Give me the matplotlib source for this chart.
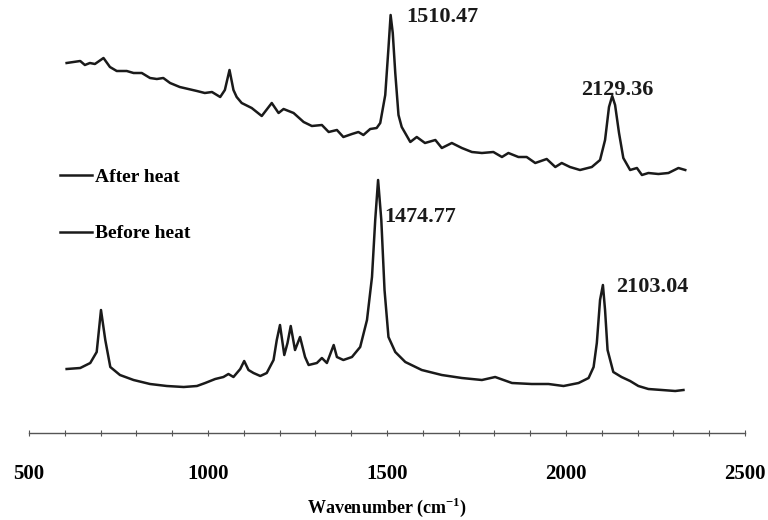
import numpy as np
import matplotlib
matplotlib.use("Agg")
import matplotlib.pyplot as plt
from matplotlib.ticker import MultipleLocator

plt.rcParams['font.family'] = ['Liberation Serif', 'DejaVu Serif']
plt.rcParams['mathtext.fontset'] = 'custom'
plt.rcParams['mathtext.rm'] = 'Liberation Serif'
plt.rcParams['mathtext.bf'] = 'Liberation Serif:bold'

# wavenumber (cm-1) and intensity (a.u.)
after_wn = [605, 643, 656, 670, 684, 708, 726, 745, 773, 792, 815, 838, 857, 875,
            894, 921, 945, 969, 991, 1011, 1034, 1047, 1060, 1071, 1080, 1094, 1122,
            1150, 1178, 1197, 1211, 1239, 1267, 1290, 1318, 1337, 1360, 1378, 1402,
            1420, 1434, 1453, 1471, 1481, 1495, 1504, 1510, 1516, 1523, 1532, 1541, 1565,
            1583, 1606, 1635, 1653, 1681, 1709, 1737, 1765, 1797, 1821, 1839, 1867,
            1890, 1914, 1946, 1970, 1988, 2011, 2039, 2072, 2095, 2109, 2120, 2129,
            2137, 2148, 2160, 2179, 2198, 2212, 2230, 2258, 2286, 2314, 2333]
after_int = [370, 372, 368, 370, 369, 375, 366, 362, 362, 360, 360, 355, 354, 355,
             350, 346, 344, 342, 340, 341, 336, 343, 363, 343, 336, 330, 325,
             317, 330, 320, 324, 320, 311, 307, 308, 301, 303, 296, 299,
             301, 298, 304, 305, 310, 338, 385, 418, 400, 360, 318, 306, 291,
             296, 290, 293, 285, 290, 285, 281, 280, 281, 276, 280, 276,
             276, 270, 274, 266, 270, 266, 263, 266, 273, 293, 326, 337,
             328, 300, 275, 263, 265, 258, 260, 259, 260, 265, 263]

before_wn = [605, 643, 671, 689, 701, 713, 727, 754, 792, 838, 885, 932, 969, 992,
             1020, 1043, 1057, 1071, 1090, 1101, 1113, 1127, 1146, 1164, 1183, 1192,
             1201, 1213, 1222, 1231, 1243, 1257, 1271, 1281, 1304, 1318, 1332, 1351,
             1360, 1378, 1402, 1425, 1444, 1458, 1467, 1475, 1484, 1493, 1504, 1523,
             1551, 1597, 1653, 1709, 1765, 1802, 1849, 1904, 1951, 1993, 2035, 2063,
             2077, 2086, 2095, 2103, 2109, 2116, 2132, 2155, 2179, 2202, 2230, 2268,
             2305, 2328]
before_int = [64, 65, 70, 81, 123, 93, 66, 58, 53, 49, 47, 46, 47, 50,
              54, 56, 59, 56, 64, 72, 63, 60, 57, 60, 73, 93,
              108, 78, 90, 107, 83, 96, 76, 68, 70, 75, 70, 88,
              76, 73, 76, 86, 113, 156, 213, 253, 213, 143, 96, 81,
              71, 63, 58, 55, 53, 56, 50, 49, 49, 47, 50, 55,
              66, 90, 133, 148, 123, 83, 61, 56, 52, 47, 44, 43,
              42, 43]

peak_labels = ['1510.47', '2129.36', '1474.77', '2103.04']
peak_wn = [1510.47, 2129.36, 1474.77, 2103.04]
peak_int = [418, 337, 253, 148]

fig = plt.figure(figsize=(7.68, 5.2), dpi=100)
ax = fig.add_axes([0.0378, 0.1673, 0.9323, 0.8327])

ax.plot(after_wn, after_int, color='#1a1a1a', lw=1.8, label='After heat')
ax.plot(before_wn, before_int, color='#1a1a1a', lw=1.8, label='Before heat')

offsets = [(15, -2), (-31, 6), (6, -37), (13, -2)]
for lab, w, i, (dx, dy) in zip(peak_labels, peak_wn, peak_int, offsets):
    ax.annotate(lab, (w, i), xytext=(dx, dy), textcoords='offset pixels',
                ha='left', va='center', fontsize=16, fontweight='bold',
                color='#1a1a1a')

ax.set_xlim(500, 2500)
ax.set_ylim(0, 433)
for s in ['top', 'right', 'left']:
    ax.spines[s].set_visible(False)
ax.spines['bottom'].set_color('#555555')
ax.spines['bottom'].set_linewidth(1.0)
ax.set_yticks([])
ax.xaxis.set_major_locator(MultipleLocator(500))
ax.xaxis.set_minor_locator(MultipleLocator(100))
ax.tick_params(axis='x', which='both', direction='inout', length=4, width=0.8,
               color='#555555', pad=20, labelsize=15)
for t in ax.get_xticklabels():
    t.set_fontweight('bold')
ax.set_xlabel(r'Wavenumber (cm$^{\mathbf{-1}}$)', fontsize=13, fontweight='bold',
              labelpad=9)

ax.legend(loc='upper left', bbox_to_anchor=(0.066, 0.695),
          bbox_transform=fig.transFigure, frameon=False, borderpad=0,
          handlelength=1.6, handletextpad=0.2, labelspacing=2.0,
          prop={'weight': 'bold', 'size': 14})

fig.savefig('out.png', dpi=100)
